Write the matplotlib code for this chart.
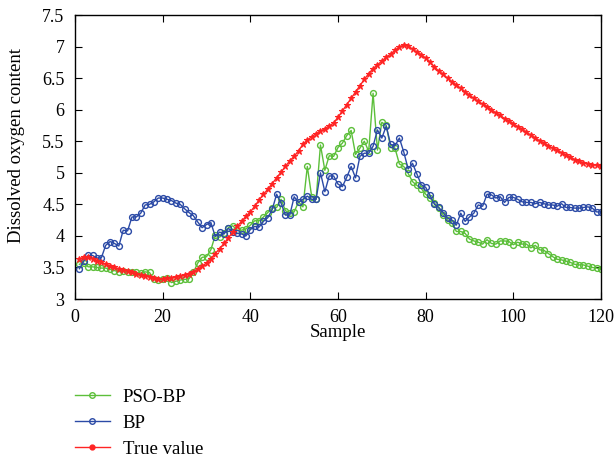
import matplotlib

matplotlib.use("Agg")

import numpy as np
import matplotlib.pyplot as plt
from matplotlib.lines import Line2D

# sample index 1..120
samples = np.arange(1, 121)

true_value = [
    3.64, 3.66, 3.67, 3.64, 3.61, 3.58, 3.55, 3.52, 3.50, 3.48,
    3.46, 3.44, 3.42, 3.40, 3.38, 3.36, 3.35, 3.33, 3.32, 3.32,
    3.33, 3.34, 3.35, 3.36, 3.38, 3.40, 3.43, 3.47, 3.52, 3.57,
    3.64, 3.72, 3.80, 3.88, 3.97, 4.06, 4.15, 4.23, 4.31, 4.38,
    4.47, 4.57, 4.66, 4.74, 4.83, 4.92, 5.01, 5.10, 5.19, 5.26,
    5.35, 5.45, 5.52, 5.57, 5.62, 5.66, 5.70, 5.74, 5.79, 5.88,
    5.98, 6.08, 6.18, 6.28, 6.38, 6.48, 6.57, 6.65, 6.71, 6.77,
    6.83, 6.88, 6.94, 6.99, 7.03, 7.01, 6.96, 6.91, 6.87, 6.82,
    6.75, 6.68, 6.61, 6.56, 6.50, 6.44, 6.39, 6.34, 6.28, 6.23,
    6.18, 6.13, 6.09, 6.05, 6.00, 5.95, 5.91, 5.86, 5.82, 5.78,
    5.73, 5.69, 5.64, 5.60, 5.55, 5.51, 5.47, 5.43, 5.39, 5.36,
    5.32, 5.28, 5.25, 5.21, 5.18, 5.16, 5.14, 5.13, 5.12, 5.11,
]

bp = [
    3.48, 3.60, 3.69, 3.69, 3.65, 3.65, 3.85, 3.91, 3.88, 3.84,
    4.09, 4.08, 4.30, 4.30, 4.36, 4.49, 4.50, 4.54, 4.60, 4.60,
    4.58, 4.56, 4.52, 4.50, 4.43, 4.37, 4.32, 4.22, 4.13, 4.18,
    4.21, 3.99, 4.06, 4.03, 4.12, 4.06, 4.04, 4.03, 4.00, 4.10,
    4.15, 4.14, 4.23, 4.29, 4.42, 4.66, 4.52, 4.33, 4.33, 4.62,
    4.53, 4.58, 4.63, 4.58, 4.58, 5.00, 4.70, 4.95, 4.95, 4.82,
    4.78, 4.93, 5.10, 4.92, 5.26, 5.31, 5.31, 5.42, 5.68, 5.55,
    5.74, 5.45, 5.43, 5.55, 5.33, 5.06, 5.15, 4.98, 4.81, 4.77,
    4.64, 4.50, 4.45, 4.37, 4.28, 4.25, 4.17, 4.36, 4.23, 4.30,
    4.36, 4.49, 4.47, 4.66, 4.65, 4.60, 4.62, 4.53, 4.61, 4.61,
    4.58, 4.54, 4.53, 4.53, 4.51, 4.53, 4.51, 4.49, 4.49, 4.47,
    4.51, 4.45, 4.45, 4.44, 4.44, 4.45, 4.46, 4.44, 4.38, 4.38,
]

pso_bp = [
    3.55, 3.57, 3.51, 3.51, 3.50, 3.49, 3.49, 3.47, 3.45, 3.43,
    3.45, 3.43, 3.42, 3.42, 3.41, 3.43, 3.42, 3.31, 3.30, 3.31,
    3.33, 3.26, 3.28, 3.30, 3.31, 3.32, 3.42, 3.57, 3.66, 3.67,
    3.78, 4.01, 3.98, 4.05, 4.13, 4.16, 4.09, 4.09, 4.11, 4.17,
    4.24, 4.24, 4.30, 4.37, 4.44, 4.45, 4.58, 4.40, 4.36, 4.38,
    4.54, 4.46, 5.10, 4.62, 4.58, 5.44, 5.04, 5.27, 5.26, 5.40,
    5.47, 5.59, 5.67, 5.29, 5.39, 5.50, 5.34, 6.26, 5.36, 5.80,
    5.75, 5.40, 5.39, 5.14, 5.10, 4.99, 4.86, 4.80, 4.75, 4.66,
    4.60, 4.52, 4.44, 4.33, 4.25, 4.20, 4.07, 4.07, 4.04, 3.95,
    3.92, 3.90, 3.87, 3.94, 3.88, 3.87, 3.92, 3.92, 3.91, 3.86,
    3.90, 3.87, 3.87, 3.81, 3.85, 3.78, 3.77, 3.72, 3.67, 3.63,
    3.62, 3.60, 3.58, 3.55, 3.54, 3.54, 3.52, 3.50, 3.49, 3.47,
]

x_ticks = [0, 20, 40, 60, 80, 100, 120]
y_ticks = [3, 3.5, 4, 4.5, 5, 5.5, 6, 6.5, 7, 7.5]
y_tick_labels = ["3", "3.5", "4", "4.5", "5", "5.5", "6", "6.5", "7", "7.5"]

GREEN = "#5cbf3a"
BLUE = "#2b4aa6"
RED = "#ff2424"

plt.rcParams["font.family"] = ["Liberation Serif", "DejaVu Serif"]

fig = plt.figure(figsize=(6.16, 4.62), dpi=100)
ax = fig.add_axes([75 / 616, 163 / 462, 526 / 616, 284 / 462])

ax.plot(samples, pso_bp, color=GREEN, lw=1.0, marker="o", ms=4.2,
        mfc="none", mec=GREEN, mew=1.0, label="PSO-BP")
ax.plot(samples, bp, color=BLUE, lw=1.0, marker="o", ms=4.2,
        mfc="none", mec=BLUE, mew=1.0, label="BP")
ax.plot(samples, true_value, color=RED, lw=1.0, marker="*", ms=5,
        mfc=RED, mec=RED, mew=0.8, label="True value")

ax.set_xlim(0, 120)
ax.set_ylim(3, 7.5)
ax.set_xticks(x_ticks)
ax.set_yticks(y_ticks)
ax.set_yticklabels(y_tick_labels)
ax.tick_params(direction="in", top=True, right=True, length=5, width=0.8,
               labelsize=13)
ax.tick_params(axis="y", pad=7.5)
ax.tick_params(axis="x", pad=7)
for side in ax.spines.values():
    side.set_linewidth(1.0)

ax.set_xlabel("Sample", fontsize=13.5, labelpad=-1)
ax.set_ylabel("Dissolved oxygen content", fontsize=13.5)
ax.yaxis.set_label_coords(-0.095, 0.542)

# legend handles with a single centred marker
handles = [
    Line2D([0], [0], color=GREEN, lw=1.0, marker="o", ms=4, mfc="none", mec=GREEN),
    Line2D([0], [0], color=BLUE, lw=1.0, marker="o", ms=4, mfc="none", mec=BLUE),
    Line2D([0], [0], color=RED, lw=1.0, marker="o", ms=3.5, mfc=RED, mec=RED),
]
fig.legend(handles, ["PSO-BP", "BP", "True value"], loc="upper left",
           bbox_to_anchor=(71 / 616, 1 - 385 / 462), frameon=False,
           fontsize=13.5, handlelength=1.87, handletextpad=0.7,
           labelspacing=0.47, borderpad=0.2, borderaxespad=0)

fig.savefig("out.png", dpi=100)
